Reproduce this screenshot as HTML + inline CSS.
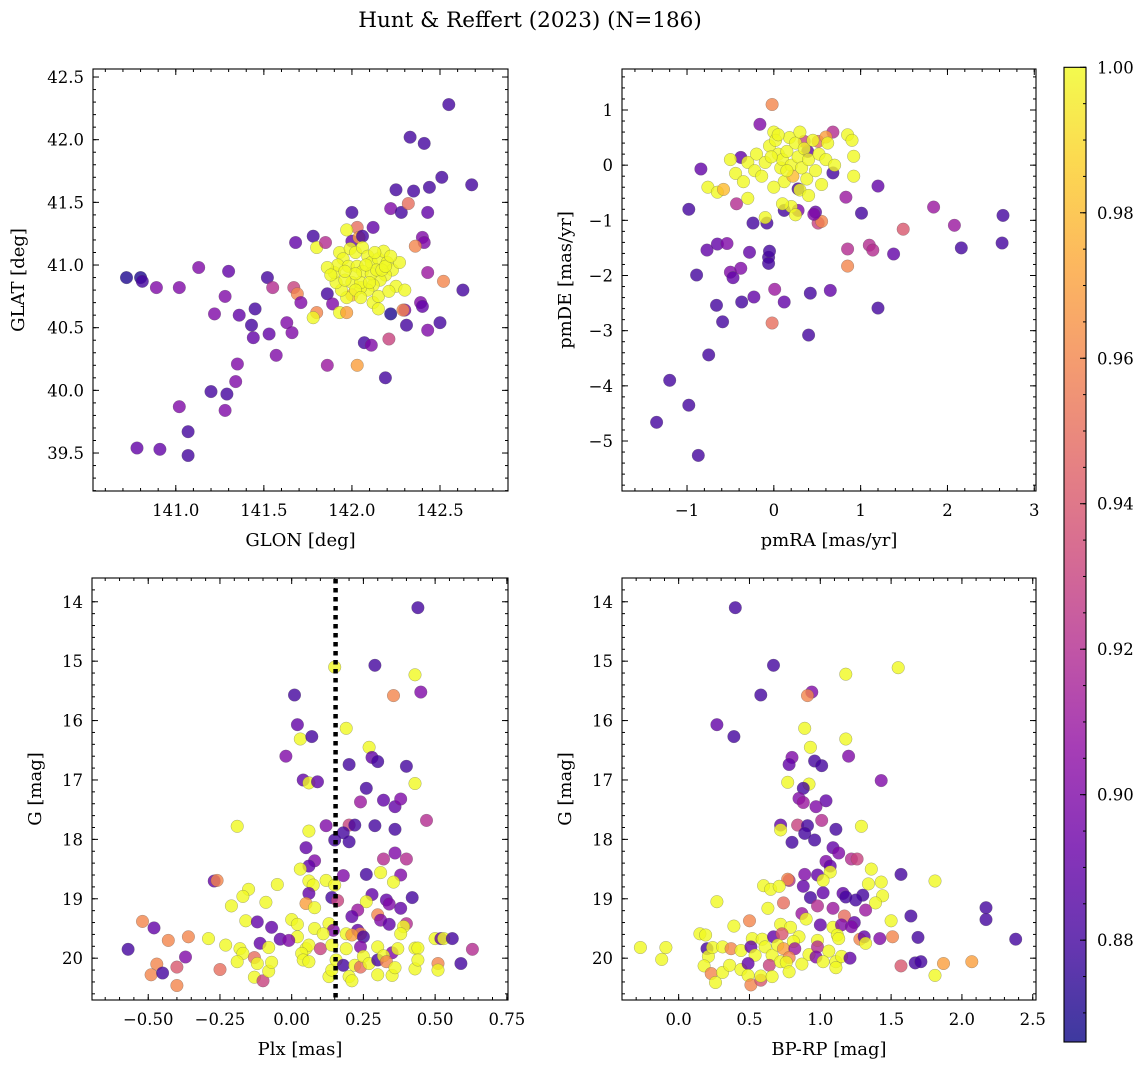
<!DOCTYPE html>
<html><head><meta charset="utf-8"><style>
body{margin:0;background:#fff}
svg text{font-family:"DejaVu Serif","Liberation Serif",serif;fill:#000}
</style></head><body>
<svg id="fig" width="1148" height="1067" viewBox="0 0 1148 1067" xmlns="http://www.w3.org/2000/svg">
<defs>
<linearGradient id="plasma" x1="0" y1="1" x2="0" y2="0">
<stop offset="0" stop-color="#0d0887"/><stop offset="0.1" stop-color="#41049d"/><stop offset="0.2" stop-color="#6a00a8"/><stop offset="0.3" stop-color="#8f0da4"/><stop offset="0.4" stop-color="#b12a90"/><stop offset="0.5" stop-color="#cc4778"/><stop offset="0.6" stop-color="#e16462"/><stop offset="0.7" stop-color="#f2844b"/><stop offset="0.8" stop-color="#fca636"/><stop offset="0.9" stop-color="#fcce25"/><stop offset="1" stop-color="#f0f921"/>
</linearGradient>
</defs>
<text x="530" y="27" font-size="21.5" text-anchor="middle">Hunt &amp; Reffert (2023) (N=186)</text>
<g id="plots"></g>
</svg>
<script>
const p1 = [[140.72,40.90,.87],[140.80,40.90,.87],[140.81,40.87,.88],[140.89,40.82,.90],[141.02,40.82,.90],[141.13,40.98,.90],[141.30,40.95,.89],[141.22,40.61,.90],[141.28,40.75,.90],[141.36,40.60,.89],[141.45,40.65,.88],[141.43,40.52,.88],[141.53,40.45,.89],[141.52,40.90,.88],[141.55,40.82,.92],[141.57,40.28,.90],[141.63,40.54,.90],[141.66,40.46,.90],[141.67,40.82,.93],[141.69,40.77,.96],[141.71,40.70,.90],[141.44,40.42,.89],[141.35,40.21,.90],[141.34,40.07,.90],[141.20,39.99,.88],[141.29,39.97,.88],[141.28,39.84,.90],[141.02,39.87,.90],[141.07,39.67,.88],[141.07,39.48,.88],[140.78,39.54,.89],[140.91,39.53,.89],[141.68,41.18,.89],[141.78,41.23,.88],[141.80,41.14,1],[141.85,41.18,.92],[141.86,40.77,.88],[141.80,40.62,.96],[141.78,40.58,1],[141.86,40.20,.91],[142.00,41.19,.89],[142.03,41.30,.95],[142.04,41.22,.97],[142.06,41.23,.88],[142.00,41.42,.88],[142.12,41.30,.89],[142.03,40.20,.97],[142.07,40.38,.88],[142.11,40.36,.90],[142.22,40.61,.87],[142.19,40.10,.88],[142.21,40.41,.93],[142.25,41.60,.88],[142.22,41.45,.90],[142.28,41.42,.88],[142.32,41.49,.95],[142.33,42.02,.88],[142.41,41.97,.88],[142.35,41.59,.88],[142.44,41.62,.88],[142.51,41.70,.88],[142.55,42.28,.88],[142.68,41.64,.88],[142.43,41.42,.89],[142.40,41.22,.90],[142.41,41.18,.90],[142.36,41.15,.96],[142.43,40.94,.91],[142.39,40.70,.90],[142.40,40.67,.89],[142.43,40.48,.90],[142.50,40.54,.88],[142.52,40.87,.96],[142.63,40.80,.88],[142.31,40.52,.88],[142.30,40.64,.90],[142.29,40.64,.96],[141.89,40.69,.90],[141.93,40.62,1],[141.97,40.62,.97],
[141.93,41.10,1],[141.95,41.05,1],[141.99,41.13,1],[142.02,41.10,1],[142.06,41.14,1],[142.09,41.07,1],[142.11,41.02,1],[142.15,41.05,1],[142.18,41.11,1],[142.20,41.02,1],[142.23,40.96,1],[142.19,40.92,1],[142.16,40.88,1],[142.12,40.84,1],[142.09,40.80,1],[142.05,40.82,1],[142.00,40.76,.98],[141.97,40.74,1],[141.94,40.80,1],[141.91,40.86,1],[141.90,40.94,1],[141.92,41.00,1],[141.98,40.99,1],[142.03,40.99,1],[142.06,40.95,1],[142.11,40.93,1],[142.14,40.96,1],[142.17,40.96,1],[142.00,40.86,1],[142.05,40.86,1],[142.10,40.86,1],[141.96,40.88,1],[142.02,40.80,1],[142.12,40.70,1],[142.15,40.75,1],[142.27,41.02,1],[142.25,40.83,1],[142.30,40.80,1],[142.21,40.79,1],[142.05,40.74,1],[141.97,41.28,1],[142.15,40.65,1],[142.08,41.00,1],[142.02,40.93,1],[141.96,40.95,1],[142.13,41.10,1],[142.19,40.99,1],[141.86,40.98,1],[141.88,40.92,1],[142.22,41.07,1]];

const p2 = [[-1.35,-4.66,.88],[-1.20,-3.90,.88],[-0.98,-4.35,.88],[-0.87,-5.26,.88],[-0.98,-0.80,.88],[-0.89,-1.99,.88],[-0.84,-0.07,.89],[-0.75,-3.44,.88],[-0.77,-1.54,.89],[-0.66,-2.54,.88],[-0.59,-2.84,.88],[-0.65,-1.43,.89],[-0.54,-1.42,.90],[-0.50,-1.94,.90],[-0.47,-2.04,.89],[-0.38,-1.87,.90],[-0.37,-2.48,.88],[-0.23,-2.39,.89],[-0.28,-1.58,.89],[-0.24,-1.05,.88],[-0.43,-0.70,.92],[-0.38,0.14,.89],[-0.16,0.74,.90],[-0.06,-1.67,.88],[-0.05,-1.56,.88],[-0.06,-1.78,.88],[-0.02,-2.86,.95],[0.01,-2.25,.91],[0.12,-2.48,.89],[-0.02,1.10,.96],[0.42,-2.32,.88],[0.40,-3.08,.88],[0.65,-2.27,.89],[0.51,-1.05,.93],[0.55,-1.02,.96],[0.48,-0.85,.89],[0.68,-0.14,.88],[0.83,-0.58,.91],[1.01,-0.87,.88],[1.20,-0.38,.89],[0.92,0.16,1],[0.85,-1.83,.96],[0.85,-1.52,.92],[1.10,-1.45,.92],[1.14,-1.54,.92],[1.38,-1.61,.89],[1.49,-1.16,.94],[1.20,-2.59,.88],[1.84,-0.76,.91],[2.08,-1.09,.91],[2.16,-1.50,.88],[2.64,-0.91,.88],[2.63,-1.41,.88],[-0.08,-1.05,.88],[0.12,-0.82,.88],[0.28,-0.82,.90],[0.46,-0.89,.90],[0.28,-0.43,.88],[0.39,0.25,.89],[0.35,0.43,.93],[0.68,0.60,.92],[0.51,0.43,.95],[0.60,0.51,.97],
[-0.76,-0.40,1],[-0.65,-0.49,1],[-0.58,-0.44,.98],[-0.50,0.10,1],[-0.44,-0.15,1],[-0.35,-0.30,1],[-0.30,0.05,1],[-0.22,-0.10,1],[-0.20,0.20,1],[-0.14,-0.20,1],[-0.10,0.05,1],[-0.05,0.35,1],[0.00,0.60,1],[0.02,0.45,1],[0.05,0.20,1],[0.08,-0.05,1],[0.10,0.10,1],[0.12,-0.30,1],[0.15,0.25,1],[0.18,0.50,1],[0.20,0.00,1],[0.22,-0.20,.98],[0.25,0.40,1],[0.28,0.15,1],[0.30,-0.45,1],[0.32,-0.05,1],[0.35,0.30,1],[0.38,-0.25,1],[0.40,0.10,1],[0.45,0.45,1],[0.48,-0.10,1],[0.52,0.20,1],[0.55,-0.35,1],[0.60,0.10,1],[0.62,0.40,1],[0.70,0.00,1],[0.85,0.55,1],[0.90,0.45,1],[0.92,-0.20,1],[0.20,-0.75,1],[0.25,-0.90,1],[-0.10,-0.95,1],[0.10,-0.70,1],[-0.30,-0.60,1],[0.00,-0.40,1],[-0.03,0.15,1],[0.15,-0.10,1],[0.30,0.60,1],[0.05,0.55,1],[0.40,-0.55,1]];

const p3 = [[.44,14.10,.88],[.29,15.07,.88],[.15,15.10,1],[.43,15.23,1],[.355,15.58,.96],[.45,15.52,.90],[.01,15.57,.88],[.02,16.07,.89],[.03,16.31,1],[.07,16.27,.88],[.19,16.13,1],[-.02,16.60,.90],[.27,16.45,1],[.28,16.62,.89],[.30,16.69,.88],[.20,16.74,.88],[.40,16.77,.88],[.04,17.00,.89],[.06,17.05,1],[.09,17.03,.89],[.43,17.06,1],[.26,17.14,.88],[.24,17.37,.91],[.32,17.34,.89],[.36,17.45,.89],[.38,17.32,.90],[-.19,17.78,1],[.06,17.86,1],[.12,17.77,.90],[.20,17.76,.93],[.22,17.76,.88],[.29,17.77,.88],[.36,17.83,.88],[.47,17.68,.92],[.15,18.01,.88],[.18,17.89,.88],[.20,18.04,.88],[.05,18.14,.89],[.08,18.36,.90],[.06,18.45,.89],[.03,18.50,1],[.36,18.23,.90],[.32,18.33,.92],[.40,18.33,.92],[.26,18.59,.88],[.31,18.56,1],[.38,18.60,.90],[.355,18.72,1],[.18,18.61,.90],[.12,18.69,1],[.15,18.77,1],[.06,18.70,1],[.075,18.77,1],[-.27,18.70,.89],[-.26,18.69,.96],[-.15,18.84,1],[-.17,18.96,1],[-.05,18.76,1],[-.09,19.06,1],[-.21,19.12,1],[.06,18.91,.89],[.14,18.98,.88],[.16,19.03,.93],[.28,18.93,.89],[.42,18.98,.88],[.33,19.02,.89],[.34,19.09,.90],[.26,19.05,1],[.05,19.08,.97],[.08,19.15,1],[.23,19.19,.91],[.21,19.30,.89],[.38,19.16,.89],[.30,19.27,.96],[.31,19.36,.90],[.34,19.43,.89],[.40,19.42,.92],[.39,19.47,1],[.38,19.59,1],[-.52,19.38,.96],[-.48,19.49,.89],[-.16,19.37,1],[-.12,19.39,.89],[-.07,19.48,.89],[.00,19.35,1],[.02,19.43,1],[.08,19.50,1],[.13,19.42,1],[.145,19.53,.90],[.19,19.59,1],[.23,19.53,.89],[.24,19.59,.96],[.21,19.61,.97],[.25,19.64,.88],[.02,19.64,1],[.11,19.59,1],[-.43,19.70,.96],[-.36,19.64,.96],[-.29,19.67,1],[-.23,19.78,1],[-.18,19.84,1],[-.17,19.92,1],[-.11,19.75,.89],[-.08,19.82,1],[-.04,19.68,.89],[-.01,19.70,.90],[.05,19.84,1],[.06,19.78,1],[.10,19.84,.93],[.14,19.78,1],[.19,19.84,1],[.24,19.81,.90],[.30,19.81,1],[.35,19.91,.90],[.37,19.84,1],[.43,19.83,1],[.44,19.83,1],[.50,19.67,1],[.52,19.67,.89],[.53,19.67,1],[.56,19.67,.88],[.63,19.85,.92],[-.57,19.85,.88],[-.47,20.10,.96],[-.49,20.28,.96],[-.45,20.25,.88],[-.40,20.15,.94],[-.40,20.46,.96],[-.37,19.98,.90],[-.25,20.19,.95],[-.19,20.06,1],[-.13,19.99,.95],[-.12,20.09,1],[-.13,20.32,1],[-.10,20.38,.93],[-.08,20.22,1],[-.07,20.07,1],[.035,19.92,1],[.04,20.03,1],[.06,20.06,1],[.13,20.31,1],[.14,20.20,1],[.155,20.03,1],[.18,20.12,.88],[.20,20.31,1],[.21,20.38,1],[.22,20.12,1],[.24,20.15,.95],[.25,19.97,1],[.27,20.09,1],[.30,20.28,1],[.30,20.03,.88],[.32,19.96,1],[.33,20.06,.96],[.35,20.29,1],[.36,20.16,1],[.43,20.18,1],[.44,20.03,1],[.51,20.09,.96],[.51,20.20,1],[.59,20.09,.88]];

const p4 = [[.40,14.10,.88],[.67,15.07,.88],[1.18,15.22,1],[1.55,15.11,1],[.94,15.52,.90],[.91,15.58,.96],[.58,15.57,.88],[.27,16.07,.89],[.39,16.27,.88],[.89,16.13,1],[1.18,16.31,1],[.93,16.45,1],[1.20,16.60,.90],[.80,16.62,.90],[.78,16.74,.89],[.96,16.68,.88],[1.01,16.76,.88],[1.43,17.01,.90],[.77,17.04,1],[.92,17.07,1],[.88,17.14,.88],[.85,17.31,.90],[.88,17.38,.91],[1.04,17.35,.89],[.97,17.45,.90],[1.01,17.68,.92],[.72,17.76,.89],[.72,17.84,1],[.84,17.76,.93],[.91,17.77,.88],[.89,17.90,.88],[1.11,17.83,.88],[1.29,17.78,1],[.80,18.05,.88],[.96,18.01,.88],[1.09,18.14,.89],[1.13,18.23,.90],[1.04,18.37,.90],[1.22,18.33,.92],[1.26,18.33,.93],[1.07,18.45,.89],[1.07,18.55,1],[1.36,18.50,1],[.89,18.59,.90],[.98,18.60,.89],[1.57,18.59,.88],[.78,18.69,.92],[.77,18.67,.96],[1.02,18.69,1],[.60,18.78,1],[.65,18.84,1],[.71,18.79,1],[.88,18.79,.89],[1.34,18.75,1],[1.43,18.72,1],[1.81,18.70,1],[1.02,18.90,.89],[1.16,18.91,.89],[1.18,18.97,.88],[1.30,18.94,.88],[1.25,19.02,.88],[1.44,18.95,1],[.27,19.05,1],[.93,18.98,.88],[.74,19.07,.95],[1.39,19.07,1],[.98,19.12,.92],[.63,19.16,1],[1.09,19.16,.91],[1.32,19.19,.91],[.87,19.25,.91],[.90,19.34,1],[1.64,19.29,.88],[1.50,19.37,1],[2.17,19.15,.88],[2.17,19.35,.88],[2.38,19.68,.88],[.50,19.37,.96],[.39,19.46,1],[.72,19.43,1],[.79,19.48,1],[1.00,19.44,.89],[1.09,19.48,1],[1.17,19.29,.95],[1.24,19.40,.89],[1.15,19.44,.90],[1.22,19.47,.90],[.15,19.59,1],[.19,19.61,1],[.52,19.67,1],[.59,19.68,1],[.67,19.64,.89],[.73,19.59,.94],[.85,19.64,1],[.81,19.72,1],[.98,19.70,1],[1.12,19.61,1],[1.13,19.67,1],[1.28,19.68,.96],[1.31,19.64,.89],[1.32,19.75,1],[1.42,19.67,.90],[1.51,19.64,.96],[1.69,19.65,.88],[-.27,19.82,1],[-.09,19.82,1],[-.12,20.02,1],[.20,19.84,.88],[.21,19.97,1],[.24,19.82,1],[.31,19.81,1],[.37,19.84,.96],[.44,19.87,1],[.51,19.81,.89],[.54,19.95,1],[.61,19.81,1],[.66,19.95,1],[.70,19.78,1],[.74,19.84,.97],[.82,19.84,.91],[.92,19.94,1],[.98,19.81,.92],[.97,19.98,.90],[1.06,19.88,1],[1.02,20.06,1],[1.11,20.06,1],[1.15,19.97,1],[1.21,20.00,.89],[.18,20.13,1],[.23,20.26,.96],[.26,20.41,1],[.31,20.24,1],[.36,20.12,1],[.44,20.19,1],[.49,20.09,.89],[.49,20.29,1],[.51,20.45,.96],[.58,20.37,.94],[.58,20.30,1],[.64,20.12,.93],[.66,20.31,1],[.72,20.06,1],[.78,19.99,.96],[.76,20.07,1],[.78,20.23,1],[.87,20.10,1],[1.11,20.16,1],[1.57,20.13,.94],[1.67,20.08,.88],[1.71,20.06,.88],[1.81,20.29,1],[1.87,20.09,.97],[2.07,20.06,.97]];

const p1XTicks = [141.0,141.5,142.0,142.5];
const p1YTicks = [39.5,40.0,40.5,41.0,41.5,42.0,42.5];
const p2XTicks = [-1,0,1,2,3];
const p2YTicks = [-5,-4,-3,-2,-1,0,1];
const p3XTicks = [-0.5,-0.25,0,0.25,0.5,0.75];
const gYTicks = [14,15,16,17,18,19,20];
const p4XTicks = [0,0.5,1,1.5,2,2.5];
const cbTicks = [0.88,0.90,0.92,0.94,0.96,0.98,1.00];
const plxCut = [0.153];
const cbRange = [0.866,1.0];

const NS="http://www.w3.org/2000/svg";
const root=document.getElementById('plots');
const TFS=16.5, LFS=18;
function mk(tag,attrs,parent){const e=document.createElementNS(NS,tag);for(const k in attrs)e.setAttribute(k,attrs[k]);(parent||root).appendChild(e);return e;}
const stops=[[13,8,135],[65,4,157],[106,0,168],[143,13,164],[177,42,144],[204,71,120],[225,100,98],[242,132,75],[252,166,54],[252,206,37],[240,249,33]];
function plasma(p){let t=(p-cbRange[0])/(cbRange[1]-cbRange[0]);t=Math.max(0,Math.min(1,t))*10;const i=Math.min(9,Math.floor(t)),f=t-i;const a=stops[i],b=stops[i+1];return 'rgb('+a.map((v,k)=>Math.round(v+(b[k]-v)*f)).join(',')+')';}
function fmt(v,d){const s=Math.abs(v).toFixed(d);return (v<-1e-9?'\u2212':'')+s;}

function panel(name,box,xd,yd,data,xt,yt,xdec,ydec,xminor,yminor,xlab,ylab,ylabX){
  const g=mk('g',{});
  
  
  const X=v=>box[0]+(v-xd[0])/(xd[1]-xd[0])*(box[1]-box[0]);
  const Y=v=>box[3]-(v-yd[0])/(yd[1]-yd[0])*(box[3]-box[2]);
  const pts=mk('g',{},g);
  
  
  data.forEach(d=>{
    const c=mk('circle',{cx:X(d[0]).toFixed(1),cy:Y(d[1]).toFixed(1),r:6.3,fill:plasma(d[2]),'fill-opacity':0.8,stroke:'#555','stroke-opacity':0.5,'stroke-width':0.5},pts);
    
    
  });
  const ax=mk('g',{stroke:'#000','stroke-width':1},g);
  
  
  const lo=Math.min(xd[0],xd[1]),hi=Math.max(xd[0],xd[1]);
  for(let v=Math.ceil(lo/xminor-1e-6)*xminor;v<=hi;v+=xminor){const x=X(v);mk('line',{x1:x,x2:x,y1:box[3],y2:box[3]-3},ax);mk('line',{x1:x,x2:x,y1:box[2],y2:box[2]+3},ax);}
  const ylo=Math.min(yd[0],yd[1]),yhi=Math.max(yd[0],yd[1]);
  for(let v=Math.ceil(ylo/yminor-1e-6)*yminor;v<=yhi;v+=yminor){const y=Y(v);mk('line',{x1:box[0],x2:box[0]+3,y1:y,y2:y},ax);mk('line',{x1:box[1],x2:box[1]-3,y1:y,y2:y},ax);}
  xt.forEach(v=>{const x=X(v);mk('line',{x1:x,x2:x,y1:box[3],y2:box[3]-6},ax);mk('line',{x1:x,x2:x,y1:box[2],y2:box[2]+6},ax);
    const t=mk('text',{x:x,y:box[3]+25,'font-size':TFS,'text-anchor':'middle'},g);t.textContent=fmt(v,xdec);
    });
  yt.forEach(v=>{const y=Y(v);mk('line',{x1:box[0],x2:box[0]+6,y1:y,y2:y},ax);mk('line',{x1:box[1],x2:box[1]-6,y1:y,y2:y},ax);
    const t=mk('text',{x:box[0]-9,y:y+6,'font-size':TFS,'text-anchor':'end'},g);t.textContent=fmt(v,ydec);
    });
  const fr=mk('rect',{x:box[0],y:box[2],width:box[1]-box[0],height:box[3]-box[2],fill:'none',stroke:'#000','stroke-width':1.1},g);
  
  const xl=mk('text',{x:(box[0]+box[1])/2,y:box[3]+55,'font-size':LFS,'text-anchor':'middle'},g);xl.textContent=xlab;
  
  const cy=(box[2]+box[3])/2;
  const yl=mk('text',{x:ylabX,y:cy,'font-size':LFS,'text-anchor':'middle',transform:'rotate(-90 '+ylabX+' '+cy+')'},g);yl.textContent=ylab;
  
  return {X,Y};
}
panel('panel-glon-glat',[93,508,69,491],[140.53,142.886],[39.197,42.564],p1,p1XTicks,p1YTicks,1,1,0.1,0.1,'GLON [deg]','GLAT [deg]',24);
panel('panel-pm',[622,1036,69,491],[-1.749,3.02],[-5.906,1.743],p2,p2XTicks,p2YTicks,0,0,0.2,0.2,'pmRA [mas/yr]','pmDE [mas/yr]',571);
const a3=panel('panel-plx-g',[92,508,578,1000],[-0.696,0.754],[20.704,13.60],p3,p3XTicks,gYTicks,2,0,0.05,0.2,'Plx [mas]','G [mag]',41);
panel('panel-cmd',[622,1036,578,1000],[-0.40,2.523],[20.704,13.60],p4,p4XTicks,gYTicks,1,0,0.1,0.2,'BP-RP [mag]','G [mag]',571);
plxCut.forEach(v=>{const l=mk('line',{x1:a3.X(v),x2:a3.X(v),y1:579,y2:1000,stroke:'#000','stroke-width':4.5,'stroke-dasharray':'4.5 4.5'});
  });

const cb=mk('g',{});


const cbBox=[1064,1086,67.3,1042];
const CY=v=>cbBox[3]-(v-cbRange[0])/(cbRange[1]-cbRange[0])*(cbBox[3]-cbBox[2]);
mk('rect',{x:cbBox[0],y:cbBox[2],width:cbBox[1]-cbBox[0],height:cbBox[3]-cbBox[2],fill:'url(#plasma)','fill-opacity':0.8,stroke:'#000','stroke-width':1.1},cb);
for(let v=0.870;v<=1.0001;v+=0.005){const y=CY(v);mk('line',{x1:cbBox[1],x2:cbBox[1]-3,y1:y,y2:y,stroke:'#000'},cb);}
cbTicks.forEach(v=>{const y=CY(v);mk('line',{x1:cbBox[1],x2:cbBox[1]-6,y1:y,y2:y,stroke:'#000'},cb);
  const t=mk('text',{x:1097,y:y+6,'font-size':TFS},cb);t.textContent=v.toFixed(2);
  });
</script>
</body></html>
